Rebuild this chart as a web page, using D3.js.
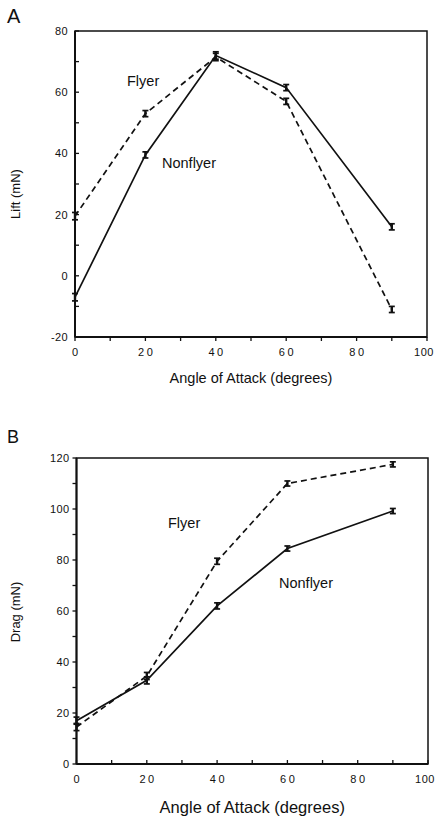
<!DOCTYPE html>
<html><head><meta charset="utf-8">
<script src="https://cdn.jsdelivr.net/npm/d3@7"></script>
<style>
body{margin:0;background:#fff}
svg{display:block}
text{font-family:"Liberation Sans",Arial,Helvetica,sans-serif;fill:#111}
</style>
</head><body>
<svg id="c" width="439" height="818"></svg>
<script>
// ---- data ----
const angles = [0, 20, 40, 60, 90];
const xTicks = [0, 20, 40, 60, 80, 100];
const seriesNames = ["Flyer", "Nonflyer"];

const liftFlyer = [19.5, 53, 71.5, 57, -11];
const liftFlyerErr = [1.2, 1, 1.2, 1, 1];
const liftNonflyer = [-7, 39.5, 72, 61.5, 16];
const liftNonflyerErr = [1.2, 1, 1.2, 1, 1];
const liftTicks = [-20, 0, 20, 40, 60, 80];

const dragFlyer = [14.5, 34.5, 79.5, 110, 117.5];
const dragFlyerErr = [1.4, 1.4, 1.2, 1, 1];
const dragNonflyer = [17, 32.8, 62, 84.5, 99.2];
const dragNonflyerErr = [1.4, 1.4, 1.2, 1, 1];
const dragTicks = [0, 20, 40, 60, 80, 100, 120];

const svg = d3.select("#c");

function panel(o) {
  const g = svg.append("g");
  const x = d3.scaleLinear().domain([0, 100]).range([o.left, o.right]);
  const y = d3.scaleLinear().domain(o.yDomain).range([o.bottom, o.top]);

  // frame
  g.append("rect").attr("x", o.left).attr("y", o.top)
    .attr("width", o.right - o.left).attr("height", o.bottom - o.top)
    .attr("fill", "none").attr("stroke", "#111").attr("stroke-width", 1.5);

  // axes lines (thicker)
  g.append("line").attr("x1", o.left).attr("x2", o.left).attr("y1", o.top).attr("y2", o.bottom)
    .attr("stroke", "#111").attr("stroke-width", 2);
  g.append("line").attr("x1", o.left).attr("x2", o.right).attr("y1", o.bottom).attr("y2", o.bottom)
    .attr("stroke", "#111").attr("stroke-width", 2);

  // x ticks (every 10)
  const xMinor = d3.range(0, 101, 10);
  g.selectAll(null).data(xMinor).join("line")
    .attr("x1", d => x(d)).attr("x2", d => x(d))
    .attr("y1", o.bottom).attr("y2", o.bottom + o.xTickDir * 4)
    .attr("stroke", "#111").attr("stroke-width", 1.3);
  g.selectAll(null).data(xTicks).join("text")
    .attr("x", d => d >= 100 ? x(d) - 3 : x(d) + 1.3).attr("y", o.bottom + o.xLabelDy)
    .attr("text-anchor", "middle").attr("font-size", 11)
    .attr("letter-spacing", d => d >= 100 ? 0.6 : 2.6)
    .text(d => d);

  // y ticks (every 10)
  const yMinor = d3.range(o.yDomain[0], o.yDomain[1] + 1, 10);
  g.selectAll(null).data(yMinor).join("line")
    .attr("x1", o.left).attr("x2", o.left + o.yTickDir * 4)
    .attr("y1", d => y(d)).attr("y2", d => y(d))
    .attr("stroke", "#111").attr("stroke-width", 1.3);
  g.selectAll(null).data(o.yTicks).join("text")
    .attr("x", o.left - 7).attr("y", d => y(d) + 4)
    .attr("text-anchor", "end").attr("font-size", 11).attr("letter-spacing", 0.4)
    .text(d => d);

  // series
  const line = d3.line().x(d => x(d[0])).y(d => y(d[1]));
  o.series.forEach(s => {
    const pts = angles.map((a, i) => [a, s.values[i], s.err[i]]);
    g.append("path").datum(pts).attr("d", line)
      .attr("fill", "none").attr("stroke", "#111").attr("stroke-width", 1.7)
      .attr("stroke-dasharray", s.dash ? "6,4" : null);
    const eb = g.selectAll(null).data(pts).join("g");
    eb.append("line").attr("x1", d => x(d[0])).attr("x2", d => x(d[0]))
      .attr("y1", d => y(d[1] - d[2])).attr("y2", d => y(d[1] + d[2]))
      .attr("stroke", "#111").attr("stroke-width", 2.4);
    [-1, 1].forEach(sg => {
      eb.append("line").attr("x1", d => x(d[0]) - 3).attr("x2", d => x(d[0]) + 3)
        .attr("y1", d => y(d[1] + sg * d[2])).attr("y2", d => y(d[1] + sg * d[2]))
        .attr("stroke", "#111").attr("stroke-width", 1.7);
    });
  });

  // series labels
  o.labels.forEach(l => {
    g.append("text").attr("x", l.x).attr("y", l.y).attr("font-size", 14.5).text(l.text);
  });

  // axis titles
  g.append("text").attr("x", (o.left + o.right) / 2).attr("y", o.titleY)
    .attr("text-anchor", "middle").attr("font-size", o.titleSize).text("Angle of Attack (degrees)");
  g.append("text").attr("transform", `translate(20,${o.yTitleY}) rotate(-90)`)
    .attr("text-anchor", "middle").attr("font-size", 13).text(o.yTitle);

  // panel letter
  g.append("text").attr("x", 7).attr("y", o.letterY).attr("font-size", o.letterSize).text(o.letter);
}

panel({
  left: 75, right: 427, top: 31, bottom: 337,
  yDomain: [-20, 80], yTicks: liftTicks,
  xTickDir: 1, yTickDir: 1, xLabelDy: 19,
  series: [
    { values: liftFlyer, err: liftFlyerErr, dash: true },
    { values: liftNonflyer, err: liftNonflyerErr, dash: false }
  ],
  labels: [{ text: seriesNames[0], x: 127, y: 86 }, { text: seriesNames[1], x: 162, y: 168 }],
  titleY: 383, titleSize: 14.5, yTitle: "Lift (mN)", yTitleY: 194,
  letter: "A", letterY: 23, letterSize: 20
});

panel({
  left: 76.5, right: 428, top: 458, bottom: 764,
  yDomain: [0, 120], yTicks: dragTicks,
  xTickDir: -1, yTickDir: -1, xLabelDy: 19,
  series: [
    { values: dragFlyer, err: dragFlyerErr, dash: true },
    { values: dragNonflyer, err: dragNonflyerErr, dash: false }
  ],
  labels: [{ text: seriesNames[0], x: 168, y: 528 }, { text: seriesNames[1], x: 279, y: 588 }],
  titleY: 813, titleSize: 16.5, yTitle: "Drag (mN)", yTitleY: 612,
  letter: "B", letterY: 443, letterSize: 18
});
</script>
</body></html>
